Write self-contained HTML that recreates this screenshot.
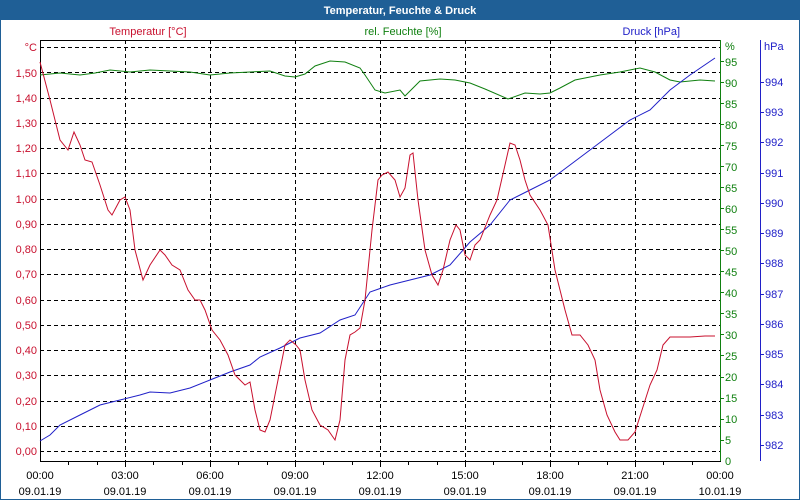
<!DOCTYPE html>
<html><head><meta charset="utf-8"><style>
html,body{margin:0;padding:0;background:#fff;}
svg{display:block;font-family:"Liberation Sans","DejaVu Sans",sans-serif;font-size:11px;}
</style></head><body>
<svg width="800" height="500" viewBox="0 0 800 500" xmlns="http://www.w3.org/2000/svg">
<rect x="0" y="0" width="800" height="500" fill="#fff"/>
<rect x="0" y="0" width="800" height="20" fill="#1f5f96"/>
<rect x="0.5" y="0.5" width="799" height="499" fill="none" stroke="#1f5f96"/>
<text x="400" y="14" text-anchor="middle" fill="#fff" font-weight="bold" font-size="11">Temperatur, Feuchte &amp; Druck</text>
<text x="148" y="35" text-anchor="middle" fill="#c8102e">Temperatur [°C]</text>
<text x="403" y="35" text-anchor="middle" fill="#108010">rel. Feuchte [%]</text>
<text x="680" y="35" text-anchor="end" fill="#2020c8">Druck [hPa]</text>
<g stroke="#000" stroke-dasharray="4,3" stroke-width="1">
<line x1="40" x2="720" y1="47.5" y2="47.5"/><line x1="40" x2="720" y1="72.5" y2="72.5"/><line x1="40" x2="720" y1="98.5" y2="98.5"/><line x1="40" x2="720" y1="123.5" y2="123.5"/><line x1="40" x2="720" y1="148.5" y2="148.5"/><line x1="40" x2="720" y1="173.5" y2="173.5"/><line x1="40" x2="720" y1="199.5" y2="199.5"/><line x1="40" x2="720" y1="224.5" y2="224.5"/><line x1="40" x2="720" y1="249.5" y2="249.5"/><line x1="40" x2="720" y1="274.5" y2="274.5"/><line x1="40" x2="720" y1="300.5" y2="300.5"/><line x1="40" x2="720" y1="325.5" y2="325.5"/><line x1="40" x2="720" y1="350.5" y2="350.5"/><line x1="40" x2="720" y1="375.5" y2="375.5"/><line x1="40" x2="720" y1="401.5" y2="401.5"/><line x1="40" x2="720" y1="426.5" y2="426.5"/><line x1="40" x2="720" y1="451.5" y2="451.5"/>
<line x1="125.5" x2="125.5" y1="40" y2="461"/><line x1="210.5" x2="210.5" y1="40" y2="461"/><line x1="295.5" x2="295.5" y1="40" y2="461"/><line x1="380.5" x2="380.5" y1="40" y2="461"/><line x1="465.5" x2="465.5" y1="40" y2="461"/><line x1="550.5" x2="550.5" y1="40" y2="461"/><line x1="635.5" x2="635.5" y1="40" y2="461"/>
</g>
<rect x="40.5" y="40.5" width="680" height="421" fill="none" stroke="#000"/>
<g stroke="#000">
<line x1="68.5" x2="68.5" y1="461" y2="465"/><line x1="97.5" x2="97.5" y1="461" y2="465"/><line x1="125.5" x2="125.5" y1="461" y2="467"/><line x1="153.5" x2="153.5" y1="461" y2="465"/><line x1="182.5" x2="182.5" y1="461" y2="465"/><line x1="210.5" x2="210.5" y1="461" y2="467"/><line x1="238.5" x2="238.5" y1="461" y2="465"/><line x1="267.5" x2="267.5" y1="461" y2="465"/><line x1="295.5" x2="295.5" y1="461" y2="467"/><line x1="323.5" x2="323.5" y1="461" y2="465"/><line x1="352.5" x2="352.5" y1="461" y2="465"/><line x1="380.5" x2="380.5" y1="461" y2="467"/><line x1="408.5" x2="408.5" y1="461" y2="465"/><line x1="437.5" x2="437.5" y1="461" y2="465"/><line x1="465.5" x2="465.5" y1="461" y2="467"/><line x1="493.5" x2="493.5" y1="461" y2="465"/><line x1="522.5" x2="522.5" y1="461" y2="465"/><line x1="550.5" x2="550.5" y1="461" y2="467"/><line x1="578.5" x2="578.5" y1="461" y2="465"/><line x1="607.5" x2="607.5" y1="461" y2="465"/><line x1="635.5" x2="635.5" y1="461" y2="467"/><line x1="663.5" x2="663.5" y1="461" y2="465"/><line x1="692.5" x2="692.5" y1="461" y2="465"/>
</g>
<g fill="#c8102e" text-anchor="end">
<text x="37" y="51">°C</text><text x="37" y="77">1,50</text><text x="37" y="102">1,40</text><text x="37" y="127">1,30</text><text x="37" y="152">1,20</text><text x="37" y="177">1,10</text><text x="37" y="203">1,00</text><text x="37" y="228">0,90</text><text x="37" y="253">0,80</text><text x="37" y="278">0,70</text><text x="37" y="304">0,60</text><text x="37" y="329">0,50</text><text x="37" y="354">0,40</text><text x="37" y="379">0,30</text><text x="37" y="405">0,20</text><text x="37" y="430">0,10</text><text x="37" y="455">0,00</text>
</g>
<line x1="720.5" x2="720.5" y1="40" y2="461" stroke="#108010"/>
<g stroke="#108010"><line x1="720" x2="724" y1="61.5" y2="61.5"/><line x1="720" x2="724" y1="82.5" y2="82.5"/><line x1="720" x2="724" y1="103.5" y2="103.5"/><line x1="720" x2="724" y1="124.5" y2="124.5"/><line x1="720" x2="724" y1="145.5" y2="145.5"/><line x1="720" x2="724" y1="166.5" y2="166.5"/><line x1="720" x2="724" y1="187.5" y2="187.5"/><line x1="720" x2="724" y1="208.5" y2="208.5"/><line x1="720" x2="724" y1="229.5" y2="229.5"/><line x1="720" x2="724" y1="250.5" y2="250.5"/><line x1="720" x2="724" y1="271.5" y2="271.5"/><line x1="720" x2="724" y1="292.5" y2="292.5"/><line x1="720" x2="724" y1="313.5" y2="313.5"/><line x1="720" x2="724" y1="334.5" y2="334.5"/><line x1="720" x2="724" y1="355.5" y2="355.5"/><line x1="720" x2="724" y1="377.5" y2="377.5"/><line x1="720" x2="724" y1="398.5" y2="398.5"/><line x1="720" x2="724" y1="419.5" y2="419.5"/><line x1="720" x2="724" y1="440.5" y2="440.5"/></g>
<g fill="#108010">
<text x="725" y="50">%</text><text x="725" y="66">95</text><text x="725" y="87">90</text><text x="725" y="108">85</text><text x="725" y="129">80</text><text x="725" y="150">75</text><text x="725" y="171">70</text><text x="725" y="192">65</text><text x="725" y="213">60</text><text x="725" y="234">55</text><text x="725" y="255">50</text><text x="725" y="276">45</text><text x="725" y="297">40</text><text x="725" y="318">35</text><text x="725" y="339">30</text><text x="725" y="360">25</text><text x="725" y="381">20</text><text x="725" y="402">15</text><text x="725" y="423">10</text><text x="725" y="444">5</text><text x="725" y="465">0</text>
</g>
<line x1="760.5" x2="760.5" y1="40" y2="461" stroke="#2020c8"/>
<g stroke="#2020c8"><line x1="760" x2="764" y1="82.5" y2="82.5"/><line x1="760" x2="764" y1="112.5" y2="112.5"/><line x1="760" x2="764" y1="142.5" y2="142.5"/><line x1="760" x2="764" y1="173.5" y2="173.5"/><line x1="760" x2="764" y1="203.5" y2="203.5"/><line x1="760" x2="764" y1="233.5" y2="233.5"/><line x1="760" x2="764" y1="263.5" y2="263.5"/><line x1="760" x2="764" y1="294.5" y2="294.5"/><line x1="760" x2="764" y1="324.5" y2="324.5"/><line x1="760" x2="764" y1="354.5" y2="354.5"/><line x1="760" x2="764" y1="384.5" y2="384.5"/><line x1="760" x2="764" y1="415.5" y2="415.5"/><line x1="760" x2="764" y1="445.5" y2="445.5"/></g>
<g fill="#2020c8">
<text x="764" y="50">hPa</text><text x="765" y="86">994</text><text x="765" y="116">993</text><text x="765" y="146">992</text><text x="765" y="177">991</text><text x="765" y="207">990</text><text x="765" y="237">989</text><text x="765" y="267">988</text><text x="765" y="298">987</text><text x="765" y="328">986</text><text x="765" y="358">985</text><text x="765" y="388">984</text><text x="765" y="419">983</text><text x="765" y="449">982</text>
</g>
<g fill="#000" text-anchor="middle">
<text x="40" y="479">00:00</text><text x="40" y="495">09.01.19</text>
<text x="125" y="479">03:00</text><text x="125" y="495">09.01.19</text>
<text x="210" y="479">06:00</text><text x="210" y="495">09.01.19</text>
<text x="295" y="479">09:00</text><text x="295" y="495">09.01.19</text>
<text x="380" y="479">12:00</text><text x="380" y="495">09.01.19</text>
<text x="465" y="479">15:00</text><text x="465" y="495">09.01.19</text>
<text x="550" y="479">18:00</text><text x="550" y="495">09.01.19</text>
<text x="635" y="479">21:00</text><text x="635" y="495">09.01.19</text>
<text x="720" y="479">00:00</text><text x="720" y="495">10.01.19</text>
</g>
<polyline fill="none" stroke="#108010" points="40,75 60,73 80,75 95,73 110,70 130,72 150,70 170,71 190,72 210,75 230,73 250,72 270,71 285,76 295,77 305,74 315,66 330,61 345,62 360,68 365,75 375,90 385,93 400,90 405,96 420,81 440,79 455,80 470,83 485,89 508,99 525,93 540,94 550,93 560,88 575,80 600,75 620,72 640,68 655,72 670,80 680,82 700,80 715,81"/>
<polyline fill="none" stroke="#2020c8" points="40,441 50,435 60,425 80,415 100,405 120,400 140,395 150,392 170,393 190,388 210,380 230,372 250,365 260,357 280,348 300,338 320,333 340,320 355,315 370,292 390,285 410,280 430,275 450,265 470,242 490,225 510,200 530,190 550,180 570,165 590,150 610,135 630,120 650,110 670,90 690,75 715,58"/>
<polyline fill="none" stroke="#c8102e" points="40,62 50,100 60,140 68,150 74,132 80,145 85,160 92,162 100,185 108,210 112,215 120,200 125,197 130,210 135,250 143,280 150,265 160,250 165,255 172,265 180,270 188,290 195,300 200,300 205,310 212,330 220,340 228,355 235,375 240,380 245,385 250,382 255,410 260,430 265,432 270,420 280,370 285,345 290,340 296,345 300,350 305,380 312,410 320,425 328,430 335,440 340,420 345,360 350,335 355,332 360,328 365,300 372,230 378,180 382,175 388,172 395,180 400,197 405,188 410,155 413,153 418,200 425,250 432,275 438,285 443,270 450,240 456,225 460,230 465,255 470,260 475,245 480,240 490,215 497,200 505,165 510,143 515,145 520,160 525,180 530,195 540,210 548,225 555,270 560,290 565,310 572,335 580,335 588,345 595,360 600,390 607,415 615,432 620,440 628,440 635,432 642,410 650,385 657,370 663,345 670,337 690,337 705,336 715,336"/>
</svg>
</body></html>
